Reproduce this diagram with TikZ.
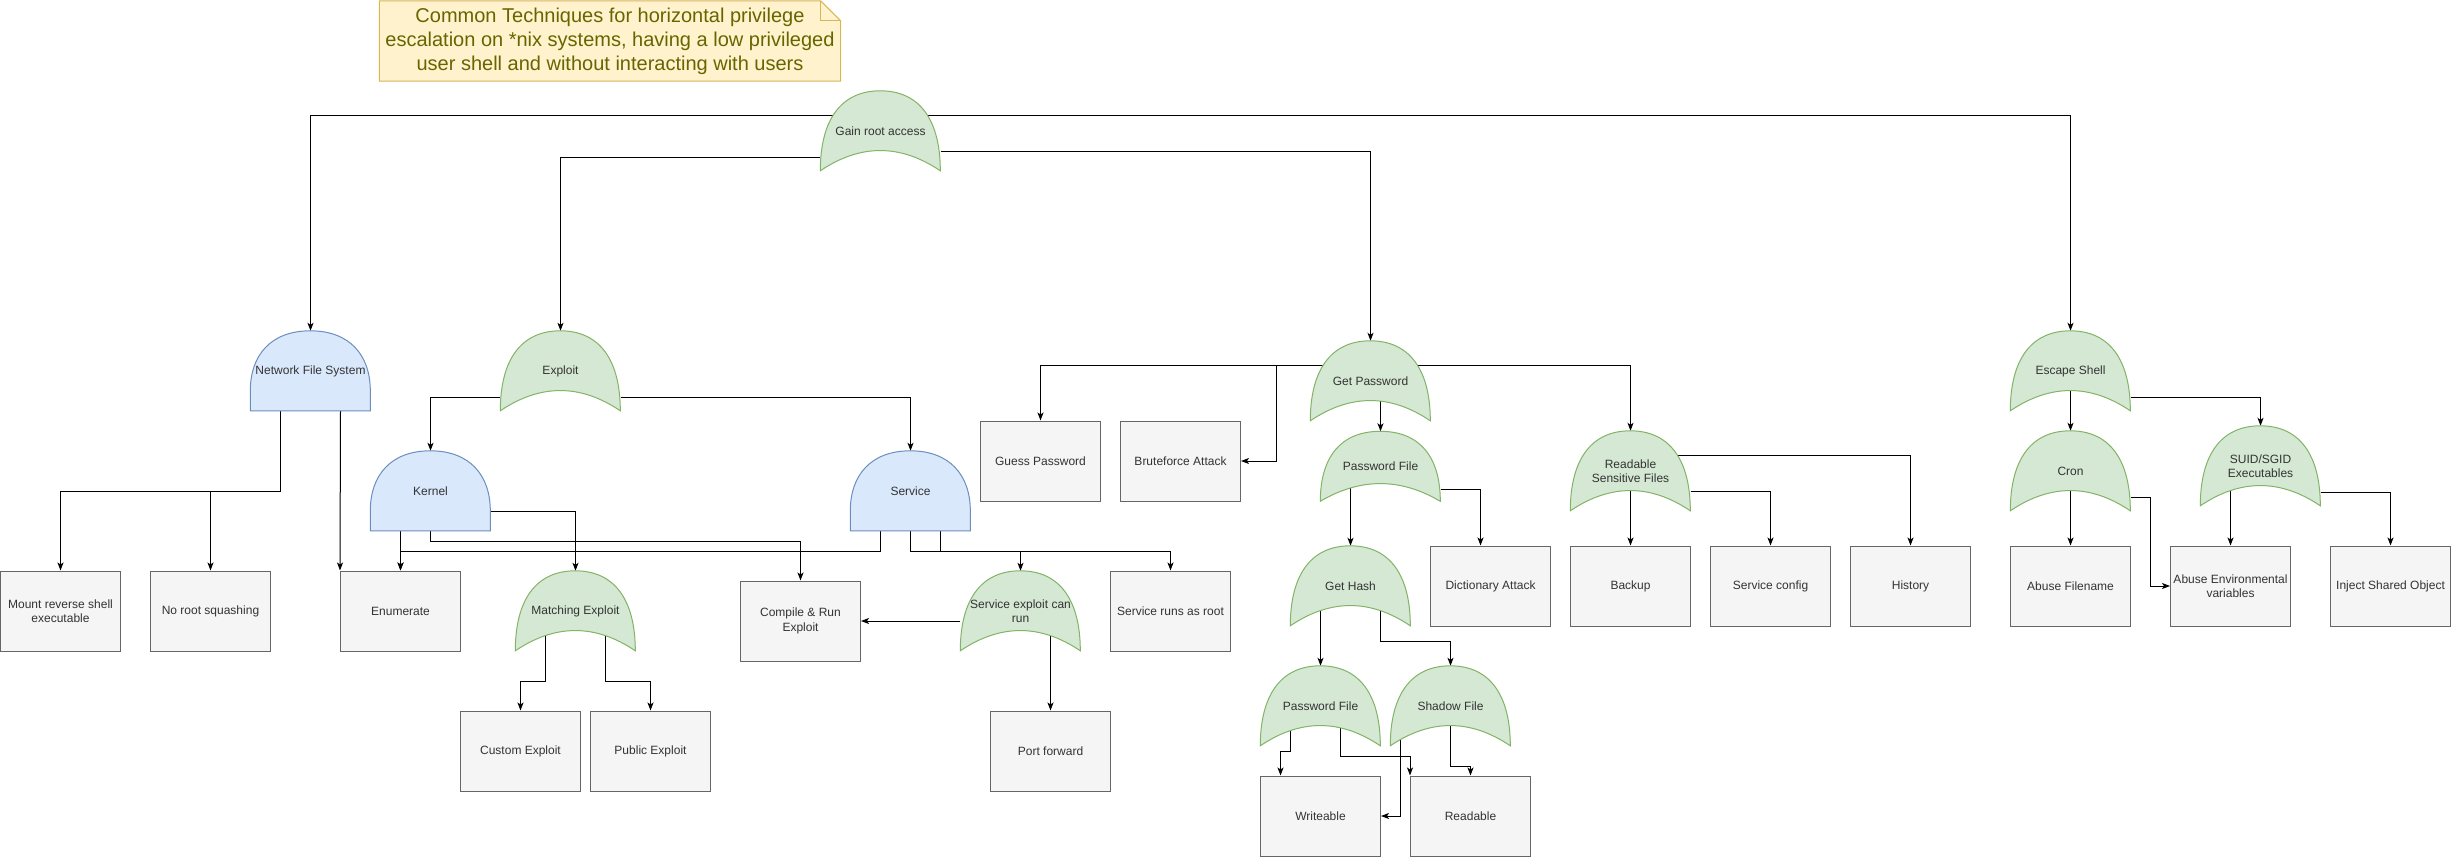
\documentclass[tikz,border=0pt]{standalone}
\usepackage{fontspec}
\setmainfont{Liberation Sans}
\usetikzlibrary{arrows.meta}

\pgfdeclarelayer{edges}
\pgfdeclarelayer{gates}
\pgfsetlayers{edges,gates,main}

\definecolor{orfill}{HTML}{D5E8D4}
\definecolor{orline}{HTML}{82B366}
\definecolor{andfill}{HTML}{DAE8FC}
\definecolor{andline}{HTML}{6C8EBF}
\definecolor{leaffill}{HTML}{F5F5F5}
\definecolor{leafline}{HTML}{666666}
\definecolor{leaftext}{HTML}{333333}
\definecolor{notefill}{HTML}{FFF2CC}
\definecolor{noteline}{HTML}{D6B656}
\definecolor{notetext}{HTML}{666600}

\tikzset{
    leaf/.style={draw=leafline, fill=leaffill, text=leaftext, line width=1pt,
        minimum width=120pt, minimum height=80pt, inner sep=0pt, align=center,
        font=\fontsize{12}{14.4}\selectfont},
    gate/.style={minimum width=120pt, minimum height=80pt, inner sep=0pt,
        align=center, text=leaftext, font=\fontsize{12}{14.4}\selectfont},
    orshape/.style={draw=orline, fill=orfill, line width=1pt},
    andshape/.style={draw=andline, fill=andfill, line width=1pt},
    arr/.style={-{Stealth[length=8pt,width=6pt,inset=2pt]}, line width=1pt},
}

\begin{document}
\begin{tikzpicture}[x=1pt, y=-1pt]
    \useasboundingbox (0,0) rectangle (2451,857);

    \node[text=notetext, align=center, minimum width=461pt, minimum height=80pt,
        inner sep=0pt, font=\fontsize{20}{24}\selectfont] (note) at (610,41)
        {Common Techniques for horizontal privilege\\escalation on *nix systems, having a low privileged\\user shell and without interacting with users};

    \node[gate] (gain) at (880.5,131) {Gain root access};
    \node[gate] (nfs) at (310.5,371) {Network File System};
    \node[gate] (exploit) at (560.5,371) {Exploit};
    \node[gate] (kernel) at (430.5,491) {Kernel};
    \node[gate] (service) at (910.5,491) {Service};
    \node[gate] (matching) at (575.5,611) {Matching Exploit};
    \node[gate] (svcexploit) at (1020.5,611) {Service exploit can\\run};
    \node[gate] (getpw) at (1370.5,381) {Get Password};
    \node[gate, minimum height=70pt] (pwfile) at (1380.5,466.5) {Password File};
    \node[gate] (gethash) at (1350.5,586) {Get Hash};
    \node[gate] (pwfile2) at (1320.5,706) {Password File};
    \node[gate] (shadow) at (1450.5,706) {Shadow File};
    \node[gate] (rsf) at (1630.5,471) {Readable\\Sensitive Files};
    \node[gate] (escape) at (2070.5,371) {Escape Shell};
    \node[gate] (cron) at (2070.5,471) {Cron};
    \node[gate] (suid) at (2260.5,466) {SUID/SGID\\Executables};

    \node[leaf] (mount) at (60.5,611) {Mount reverse shell\\executable};
    \node[leaf] (noroot) at (210.5,611) {No root squashing};
    \node[leaf] (enumerate) at (400.5,611) {Enumerate};
    \node[leaf] (custom) at (520.5,751) {Custom Exploit};
    \node[leaf] (public) at (650.5,751) {Public Exploit};
    \node[leaf] (compile) at (800.5,621) {Compile \& Run\\Exploit};
    \node[leaf] (portfwd) at (1050.5,751) {Port forward};
    \node[leaf] (runsroot) at (1170.5,611) {Service runs as root};
    \node[leaf] (guess) at (1040.5,461) {Guess Password};
    \node[leaf] (brute) at (1180.5,461) {Bruteforce Attack};
    \node[leaf] (dict) at (1490.5,586) {Dictionary Attack};
    \node[leaf] (writeable) at (1320.5,816) {Writeable};
    \node[leaf] (readable) at (1470.5,816) {Readable};
    \node[leaf] (backup) at (1630.5,586) {Backup};
    \node[leaf] (svcconfig) at (1770.5,586) {Service config};
    \node[leaf] (history) at (1910.5,586) {History};
    \node[leaf] (abusefile) at (2070.5,586) {Abuse Filename};
    \node[leaf] (abuseenv) at (2230.5,586) {Abuse Environmental\\variables};
    \node[leaf] (inject) at (2390.5,586) {Inject Shared Object};

    \begin{pgfonlayer}{gates}
    \foreach \g/\h in {gain/80, exploit/80, matching/80, svcexploit/80, getpw/80,
        pwfile/70, gethash/80, pwfile2/80, shadow/80, rsf/80, escape/80, cron/80, suid/80}
        \draw[orshape, shift={(\g.north west)}, yscale=\h/80]
            (0,80) .. controls (0,30) and (20,0) .. (60,0)
            .. controls (100,0) and (120,30) .. (120,80)
            .. controls (80,53) and (40,53) .. (0,80) -- cycle;
    \foreach \g in {nfs, kernel, service}
        \draw[andshape, shift={(\g.north west)}]
            (0,80) -- (0,60) .. controls (0,25) and (20,0) .. (60,0)
            .. controls (100,0) and (120,25) .. (120,60) -- (120,80) -- cycle;
    \draw[fill=notefill, draw=noteline, line width=1pt] (note.north west)
        -- ([xshift=-20pt]note.north east) -- ([yshift=-20pt]note.north east)
        -- (note.south east) -- (note.south west) -- cycle;
    \draw[noteline, line width=1pt] ([xshift=-20pt]note.north east)
        -- ([xshift=-20pt,yshift=-20pt]note.north east) -- ([yshift=-20pt]note.north east);
    \end{pgfonlayer}

    \begin{pgfonlayer}{edges}
    \draw[arr] ([yshift=16pt]gain.center) -| (nfs.north);
    \draw[arr] ([yshift=16pt]gain.center) -| (escape.north);
    \draw[arr] ([yshift=-26pt]gain.west) -| (exploit.north);
    \draw[arr] ([yshift=-20pt]gain.east) -| (getpw.north);

    \draw[arr] ([xshift=-30pt]nfs.south) -- ++(0,80) -| (mount.north);
    \draw[arr] ([xshift=-30pt]nfs.south) -- ++(0,80) -| (noroot.north);
    \draw[arr] ([xshift=30pt]nfs.south) -- (enumerate.north west);

    \draw[arr] ([yshift=-26pt]exploit.west) -| (kernel.north);
    \draw[arr] ([yshift=-26pt]exploit.east) -| (service.north);
    \draw[arr] ([yshift=-20pt]kernel.east) -| (matching.north);
    \draw[arr] ([xshift=-30pt]kernel.south) -- (enumerate.north);
    \draw[arr] (kernel.south) -- ++(0,10) -| (compile.north);
    \draw[arr] ([xshift=-30pt]service.south) -- ++(0,20) -| (enumerate.north);
    \draw[arr] (service.south) -- ++(0,20) -| (svcexploit.north);
    \draw[arr] ([xshift=30pt]service.south) -- ++(0,20) -| (runsroot.north);
    \draw[arr] ([yshift=-10pt]svcexploit.west) -- (compile.east);
    \draw[arr] (portfwd.north |- svcexploit.center) -- (portfwd.north);
    \draw[arr] ([xshift=-30pt]matching.center) -- ++(0,70) -| (custom.north);
    \draw[arr] ([xshift=30pt]matching.center) -- ++(0,70) -| (public.north);

    \draw[arr] ([yshift=16pt]getpw.center) -| (guess.north);
    \draw[arr] ([yshift=16pt]getpw.center) -| ([xshift=35pt]brute.east) -- (brute.east);
    \draw[arr] ([yshift=16pt]getpw.center) -| (rsf.north);
    \draw[arr] (pwfile.north |- getpw.center) -- (pwfile.north);
    \draw[arr] (gethash.north |- pwfile.center) -- (gethash.north);
    \draw[arr] ([yshift=-23pt]pwfile.east) -| ([xshift=-10pt]dict.north);
    \draw[arr] (pwfile2.north |- gethash.center) -- (pwfile2.north);
    \draw[arr] ([xshift=30pt]gethash.center) -- ++(0,55) -| (shadow.north);
    \draw[arr] ([xshift=-30pt]pwfile2.center) -- ++(0,45) -| ([xshift=-40pt]writeable.north);
    \draw[arr] ([xshift=20pt]pwfile2.center) -- ++(0,50) -| (readable.north west);
    \draw[arr] (shadow.center) -- ++(0,60) -| (readable.north);
    \draw[arr] ([xshift=-50pt]shadow.center) |- (writeable.east);

    \draw[arr] (rsf.center) -- (backup.north);
    \draw[arr] ([yshift=-20pt]rsf.east) -| (svcconfig.north);
    \draw[arr] ([yshift=16pt]rsf.center) -| (history.north);

    \draw[arr] (escape.center) -- (cron.north);
    \draw[arr] ([yshift=-26pt]escape.east) -| (suid.north);
    \draw[arr] (cron.center) -- (abusefile.north);
    \draw[arr] ([yshift=-26pt]cron.east) -| ([xshift=-20pt]abuseenv.west) -- (abuseenv.west);
    \draw[arr] (abuseenv.north |- suid.center) -- (abuseenv.north);
    \draw[arr] ([yshift=-26pt]suid.east) -| (inject.north);
    \end{pgfonlayer}
\end{tikzpicture}
\end{document}
